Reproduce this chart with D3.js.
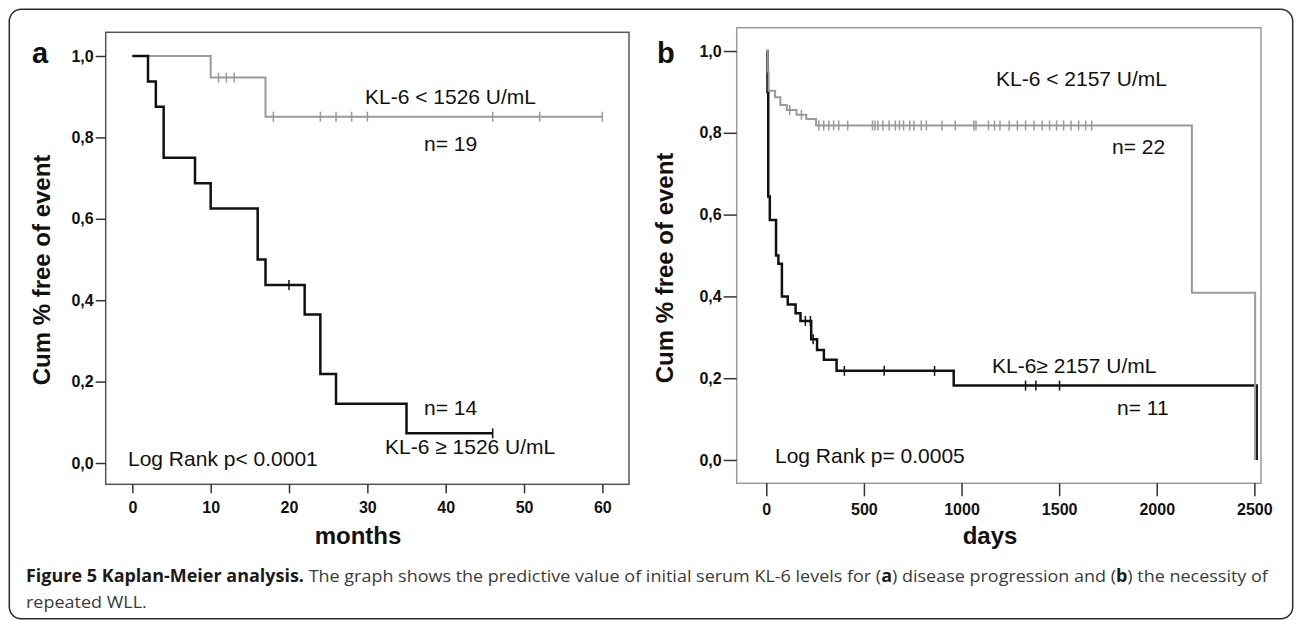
<!DOCTYPE html>
<html><head><meta charset="utf-8">
<script src="https://cdn.jsdelivr.net/npm/d3@7"></script>
<style>body{margin:0;background:#fff}</style>
</head><body>
<svg id="c" width="1296" height="620"></svg>
<script>
// ---------- data ----------
const yTicks = [0, 0.2, 0.4, 0.6, 0.8, 1.0];
const yTickLabels = ["0,0", "0,2", "0,4", "0,6", "0,8", "1,0"];
const xTicksA = [0, 10, 20, 30, 40, 50, 60];
const xTicksB = [0, 500, 1000, 1500, 2000, 2500];

// panel a (months)
const aLowTime = [0, 10, 17, 60];
const aLowSurv = [1, 0.947, 0.851, 0.851];
const aLowCens = [11, 12, 13, 18, 24, 26, 28, 30, 46, 52, 60];
const aHighTime = [0, 2, 3, 4, 8, 10, 16, 17, 22, 24, 26, 35, 46];
const aHighSurv = [1, 0.9375, 0.875, 0.75, 0.6875, 0.625, 0.5, 0.4375, 0.3646, 0.2188, 0.1458, 0.0729, 0.0729];
const aHighCens = [20, 46];

// panel b (days)
const bLowTime = [0, 7, 12, 45, 72, 105, 155, 205, 255, 2180, 2504];
const bLowSurv = [1, 0.95, 0.903, 0.887, 0.868, 0.856, 0.844, 0.834, 0.818, 0.409, 0];
const bLowCens = [120, 180, 269, 294, 320, 345, 371, 417, 544, 557, 572, 597, 629, 661, 682, 703, 735, 756, 794, 820,
  900, 968, 1063, 1074, 1138, 1169, 1197, 1244, 1286, 1328, 1371, 1413, 1451, 1487, 1523, 1561, 1600, 1636, 1667];
const bHighTime = [0, 6, 10, 18, 50, 62, 80, 110, 150, 175, 230, 260, 295, 360, 960, 2512];
const bHighSurv = [1, 0.9, 0.644, 0.587, 0.5, 0.48, 0.4, 0.38, 0.359, 0.34, 0.295, 0.269, 0.245, 0.218, 0.182, 0];
const bHighCens = [200, 226, 240, 400, 604, 862, 1328, 1381, 1502];

// ---------- drawing ----------
const svg = d3.select("#c");
const FONT = "'Liberation Sans', Arial, sans-serif";

svg.append("rect").attr("x", 9.3).attr("y", 9.3).attr("width", 1283.4).attr("height", 609.5)
  .attr("rx", 12).attr("fill", "none").attr("stroke", "#2a2a2a").attr("stroke-width", 1.5);

function survAt(times, surv, t) {
  let v = surv[0];
  for (let i = 0; i < times.length; i++) if (times[i] <= t) v = surv[i];
  return v;
}

function panel(cfg) {
  const g = svg.append("g");
  const x = d3.scaleLinear().domain(cfg.xDomain).range([cfg.left, cfg.right]);
  const y = d3.scaleLinear().domain(cfg.yDomain).range([cfg.bottom, cfg.top]);

  // box
  g.append("rect").attr("x", cfg.left).attr("y", cfg.top)
    .attr("width", cfg.right - cfg.left).attr("height", cfg.bottom - cfg.top)
    .attr("fill", "none").attr("stroke", cfg.boxColor).attr("stroke-width", 1.5);

  // y axis
  const ya = g.append("g").attr("transform", `translate(${cfg.left},0)`)
    .call(d3.axisLeft(y).tickValues(yTicks).tickFormat((d, i) => yTickLabels[i])
      .tickSize(cfg.yTickLen).tickPadding(2));
  ya.select(".domain").remove();
  ya.selectAll("line").attr("stroke", "#333").attr("stroke-width", 1.5);
  ya.selectAll("text").attr("font-family", FONT).attr("font-weight", "bold")
    .attr("font-size", 16).attr("fill", "#111");

  // x axis
  const xa = g.append("g").attr("transform", `translate(0,${cfg.bottom})`)
    .call(d3.axisBottom(x).tickValues(cfg.xTicks).tickFormat(d3.format("d"))
      .tickSize(cfg.xTickLen).tickPadding(cfg.xPad));
  xa.select(".domain").remove();
  xa.selectAll("line").attr("stroke", "#333").attr("stroke-width", 1.5);
  xa.selectAll("text").attr("font-family", FONT).attr("font-weight", "bold")
    .attr("font-size", 16).attr("fill", "#111");

  const line = d3.line().x(d => x(d[0])).y(d => y(d[1])).curve(d3.curveStepAfter);

  function curve(s) {
    const pts = s.time.map((t, i) => [t, s.surv[i]]);
    g.append("path").attr("d", line(pts)).attr("fill", "none")
      .attr("stroke", s.color).attr("stroke-width", s.width);
    g.selectAll(null).data(s.cens).enter().append("line")
      .attr("x1", d => x(d)).attr("x2", d => x(d))
      .attr("y1", d => y(survAt(s.time, s.surv, d)) - 5)
      .attr("y2", d => y(survAt(s.time, s.surv, d)) + 5)
      .attr("stroke", s.color).attr("stroke-width", 1.5);
  }
  cfg.series.forEach(curve);

  // panel letter
  g.append("text").attr("x", cfg.letterX).attr("y", 63).text(cfg.letter)
    .attr("font-family", FONT).attr("font-weight", "bold").attr("font-size", 29).attr("fill", "#111");
  // y label
  g.append("text").attr("transform", `translate(${cfg.yLabX},${cfg.yLabY}) rotate(-90)`)
    .attr("text-anchor", "middle").text("Cum % free of event")
    .attr("font-family", FONT).attr("font-weight", "bold").attr("font-size", 24).attr("fill", "#111");
  // x label
  g.append("text").attr("x", cfg.xLabX).attr("y", 544).attr("text-anchor", "middle").text(cfg.xLabel)
    .attr("font-family", FONT).attr("font-weight", "bold").attr("font-size", 24).attr("fill", "#111");
  // annotations
  cfg.notes.forEach(n => {
    g.append("text").attr("x", n[1]).attr("y", n[2]).text(n[0])
      .attr("font-family", FONT).attr("font-size", 21).attr("fill", "#111");
  });
}

panel({
  left: 105.7, right: 629, top: 32.3, bottom: 484.3,
  xDomain: [-3.4, 63.4], yDomain: [-0.0523, 1.0582],
  xTicks: xTicksA, yTickLen: 10, xTickLen: 9, xPad: 8,
  boxColor: "#555",
  series: [
    {time: aLowTime, surv: aLowSurv, cens: aLowCens, color: "#9a9a9a", width: 2},
    {time: aHighTime, surv: aHighSurv, cens: aHighCens, color: "#111", width: 2.5}
  ],
  letter: "a", letterX: 32, yLabX: 50, yLabY: 270, xLabX: 358, xLabel: "months",
  notes: [
    ["KL-6 < 1526 U/mL", 365, 104],
    ["n= 19", 424, 151],
    ["n= 14", 424, 415],
    ["KL-6 \u2265 1526 U/mL", 385, 454],
    ["Log Rank p< 0.0001", 128, 466]
  ]
});

panel({
  left: 736.7, right: 1261, top: 27.7, bottom: 483.3,
  xDomain: [-151.6, 2534], yDomain: [-0.057, 1.057],
  xTicks: xTicksB, yTickLen: 13, xTickLen: 13, xPad: 7,
  boxColor: "#9a9a9a",
  series: [
    {time: bHighTime, surv: bHighSurv, cens: bHighCens, color: "#111", width: 2.5},
    {time: bLowTime, surv: bLowSurv, cens: bLowCens, color: "#9a9a9a", width: 2}
  ],
  letter: "b", letterX: 657, yLabX: 673, yLabY: 268, xLabX: 990, xLabel: "days",
  notes: [
    ["KL-6 < 2157 U/mL", 996, 86],
    ["n= 22", 1112, 154],
    ["KL-6\u2265 2157 U/mL", 992, 373],
    ["n= 11", 1117, 415],
    ["Log Rank p= 0.0005", 775, 463]
  ]
});

// caption
const CAPF = "'Open Sans', 'Noto Sans', sans-serif";
const cap1 = svg.append("text").attr("font-family", CAPF).attr("font-size", 17).attr("fill", "#3a3a3a");
cap1.append("tspan").attr("font-weight", "bold").attr("fill", "#1a1a1a").text("Figure 5 Kaplan-Meier analysis.");
cap1.append("tspan").text(" The graph shows the predictive value of initial serum KL-6 levels for (");
cap1.append("tspan").attr("font-weight", "bold").attr("fill", "#1a1a1a").text("a");
cap1.append("tspan").text(") disease progression and (");
cap1.append("tspan").attr("font-weight", "bold").attr("fill", "#1a1a1a").text("b");
cap1.append("tspan").text(") the necessity of");
const w1 = cap1.node().getComputedTextLength();
const sx = 1243 / w1;
cap1.attr("transform", `translate(26,581.7) scale(${sx},1)`);
svg.append("text").attr("font-family", CAPF).attr("font-size", 17).attr("fill", "#3a3a3a")
  .attr("transform", `translate(26,608) scale(${sx},1)`).text("repeated WLL.");
</script>
</body></html>
